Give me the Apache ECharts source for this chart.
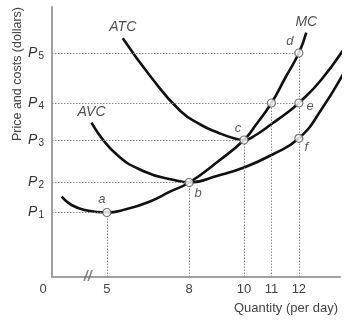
<!DOCTYPE html>
<html><head><meta charset="utf-8">
<script src="https://cdn.jsdelivr.net/npm/echarts@6/dist/echarts.min.js"></script>
<style>html,body{margin:0;padding:0;background:#fff}#c{width:357px;height:324px}</style>
</head><body><div id="c"></div>
<script>
// ---- data ----
const qTicks = [5, 8, 10, 11, 12];
const priceNames = ['1', '2', '3', '4', '5'];
const priceLevels = [6.45, 9.45, 13.7, 17.4, 22.4];
const mcQ = [3.35, 3.71, 4.2, 5, 5.69, 6.55, 7.3, 8, 9.04, 10, 10.43, 11, 11.51, 12, 12.27];
const mcP = [8.03, 7.2, 6.7, 6.45, 6.77, 7.53, 8.53, 9.45, 11.53, 13.7, 15.2, 17.4, 19.95, 22.4, 24.43];
const atcQ = [5.58, 6.6, 7.68, 8.44, 9.04, 9.63, 10, 10.43, 11.04, 11.62, 12, 12.81, 13.76];
const atcP = [23.87, 20.03, 16.6, 15.2, 14.45, 13.87, 13.7, 14.2, 15.37, 16.53, 17.4, 19.7, 23.3];
const avcQ = [4.44, 5.31, 6.39, 7.45, 8, 9.04, 10, 11.04, 12, 12.81, 13.76];
const avcP = [15.43, 12.37, 10.53, 9.7, 9.45, 10.13, 10.95, 12.25, 13.87, 16.7, 21.03];
const pointNames = ['a', 'b', 'c', '', 'd', 'e', 'f'];

const xMin = 3, xMax = 13.5, yMax = 27;
const zip = (a, b) => a.map((v, i) => [v, b[i]]);
const mc = zip(mcQ, mcP), atc = zip(atcQ, atcP), avc = zip(avcQ, avcP);
const [P1, P2, P3, P4, P5] = priceLevels;
const fP = avcP[avcQ.indexOf(12)];
const keyPts = [[5, P1], [8, P2], [10, P3], [11, P4], [12, P5], [12, P4], [12, fP]];
const lblPos = {
  a: {position: 'top', offset: [-5, 1]},
  b: {position: 'bottom', offset: [9, -3]},
  c: {position: 'top', offset: [-6, 2]},
  d: {position: 'top', offset: [-9, 2]},
  e: {position: 'right', offset: [0, 3]},
  f: {position: 'right', offset: [-2, 9]}
};
const lblFont = {fontStyle: 'italic', fontSize: 13, color: '#333', fontFamily: 'Liberation Sans'};

const chart = echarts.init(document.getElementById('c'));
const curveStyle = {color: '#111', width: 2.6};
const dotted = {color: '#8a8a8a', type: [1.5, 1.5], width: 1};
const lineBase = {type: 'line', smooth: 0.5, showSymbol: false, clip: false, lineStyle: curveStyle, z: 3, silent: true};
chart.setOption({
  animation: false,
  grid: {left: 52, right: 17, top: 7, bottom: 47},
  xAxis: {
    type: 'value', min: xMin, max: xMax,
    axisLine: {lineStyle: {color: '#a0a0a0', width: 2}},
    axisTick: {show: false}, splitLine: {show: false},
    axisLabel: {
      customValues: [xMin].concat(qTicks), margin: 6,
      color: '#444', fontSize: 13, fontFamily: 'Liberation Sans',
      formatter: v => v === xMin ? '{z|0}' : String(v),
      rich: {z: {padding: [0, 18, 0, 0], fontSize: 13, color: '#444', fontFamily: 'Liberation Sans'}}
    }
  },
  yAxis: {
    type: 'value', min: 0, max: yMax,
    axisLine: {show: true, lineStyle: {color: '#a0a0a0', width: 2}},
    axisTick: {show: false}, splitLine: {show: false},
    axisLabel: {
      customValues: priceLevels, margin: 8,
      formatter: v => '{p|P}{s|' + priceNames[priceLevels.indexOf(v)] + '}',
      rich: {
        p: {fontStyle: 'italic', fontSize: 14, color: '#333', fontFamily: 'Liberation Sans', lineHeight: 16},
        s: {fontSize: 10, color: '#333', fontFamily: 'Liberation Sans', verticalAlign: 'bottom', lineHeight: 16, padding: [8, 0, 0, 1]}
      }
    }
  },
  graphic: [
    {type: 'text', left: 11, top: 7, rotation: Math.PI / 2,
     style: {text: 'Price and costs (dollars)', fontSize: 12.5, fill: '#444', fontFamily: 'Liberation Sans'}},
    {type: 'text', right: 19, top: 302,
     style: {text: 'Quantity (per day)', fontSize: 13, fill: '#444', fontFamily: 'Liberation Sans'}}
  ],
  series: [
    {
      type: 'line', data: [], silent: true, z: 1,
      markLine: {
        silent: true, symbol: 'none', label: {show: false}, lineStyle: dotted,
        data: [
          [{coord: [xMin, P1]}, {coord: [5, P1]}],
          [{coord: [xMin, P2]}, {coord: [8, P2]}],
          [{coord: [xMin, P3]}, {coord: [10, P3]}],
          [{coord: [xMin, P4]}, {coord: [12, P4]}],
          [{coord: [xMin, P5]}, {coord: [12, P5]}],
          [{coord: [5, 0]}, {coord: [5, P1]}],
          [{coord: [8, 0]}, {coord: [8, P2]}],
          [{coord: [10, 0]}, {coord: [10, P3]}],
          [{coord: [11, 0]}, {coord: [11, P4]}],
          [{coord: [12, 0]}, {coord: [12, P5]}]
        ]
      }
    },
    Object.assign({name: 'MC', data: mc}, lineBase),
    Object.assign({name: 'ATC', data: atc}, lineBase),
    Object.assign({name: 'AVC', data: avc}, lineBase),
    {
      type: 'scatter', z: 5, symbolSize: 8, clip: false, silent: true,
      itemStyle: {color: '#fff', borderColor: '#555', borderWidth: 1.2},
      data: keyPts.map((p, i) => ({
        value: p,
        label: Object.assign({show: !!pointNames[i], formatter: pointNames[i], distance: 3}, lblFont, lblPos[pointNames[i]] || {})
      }))
    },
    {
      type: 'scatter', z: 6, symbolSize: 0, clip: false, silent: true,
      label: {show: true, position: 'top', distance: 4, fontStyle: 'italic', fontSize: 14, color: '#222', fontFamily: 'Liberation Sans', formatter: p => p.name},
      data: [
        {name: 'ATC', value: atc[0]},
        {name: 'AVC', value: avc[0]},
        {name: 'MC', value: mc[mc.length - 1]}
      ]
    },
    {
      type: 'scatter', z: 6, symbolSize: 0, clip: false, silent: true,
      label: {show: true, position: 'inside', fontSize: 14, fontWeight: 'bold', color: '#666', fontStyle: 'italic', fontFamily: 'Liberation Sans', formatter: '//'},
      data: [[4.3, 0]]
    }
  ]
});
</script></body></html>
